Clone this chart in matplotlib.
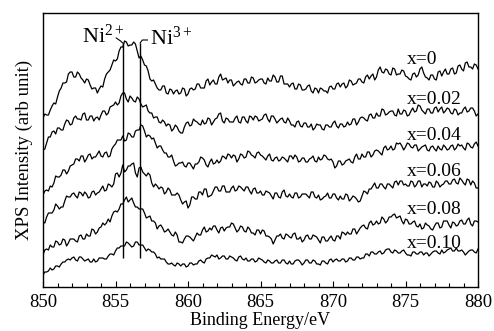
import numpy as np
import matplotlib
matplotlib.use("Agg")
import matplotlib.pyplot as plt
from matplotlib.ticker import MultipleLocator

plt.rcParams['font.family'] = ['Liberation Serif', 'DejaVu Serif']
plt.rcParams['mathtext.fontset'] = 'custom'
plt.rcParams['mathtext.rm'] = 'Liberation Serif'
plt.rcParams['mathtext.it'] = 'Liberation Serif:italic'
plt.rcParams['mathtext.bf'] = 'Liberation Serif:bold'

# ---- data (binding energy 850..880 eV, 0.125 eV step; stacked intensities, arb. units) ----
e_start, e_end = 850.0, 880.0

s_x000 = [169, 173, 172, 172, 177, 181, 184, 183, 190, 196, 199, 204, 204, 205, 213, 215,
          215, 210, 210, 215, 213, 209, 207, 204, 208, 207, 202, 198, 199, 199, 194, 198,
          201, 200, 208, 213, 215, 217, 222, 227, 226, 228, 236, 240, 240, 246, 245, 241,
          242, 242, 245, 243, 236, 229, 231, 227, 222, 221, 216, 208, 206, 207, 203, 199,
          197, 197, 201, 201, 194, 193, 198, 197, 193, 196, 197, 193, 194, 199, 198, 191,
          193, 198, 199, 197, 198, 203, 203, 199, 199, 199, 206, 208, 202, 205, 207, 203,
          203, 210, 213, 207, 208, 209, 204, 207, 207, 201, 203, 205, 206, 203, 202, 208,
          208, 204, 204, 210, 209, 204, 205, 207, 208, 208, 204, 203, 209, 206, 206, 212,
          210, 205, 205, 211, 211, 203, 203, 203, 200, 203, 204, 198, 198, 203, 202, 197,
          197, 198, 201, 202, 196, 194, 199, 198, 194, 199, 198, 196, 196, 194, 200, 201,
          198, 198, 203, 204, 200, 203, 204, 199, 201, 207, 206, 202, 203, 204, 208, 208,
          205, 204, 210, 212, 208, 211, 213, 207, 210, 217, 220, 215, 214, 218, 217, 213,
          212, 219, 218, 212, 213, 213, 217, 216, 211, 210, 208, 207, 213, 214, 210, 212,
          218, 220, 214, 210, 209, 207, 212, 212, 208, 207, 215, 216, 211, 215, 218, 213,
          213, 218, 219, 213, 214, 221, 222, 218, 216, 224, 225, 220, 220, 218, 223, 222,
          218]

s_x002 = [137, 138, 144, 150, 150, 155, 156, 153, 159, 159, 157, 157, 163, 167, 166, 162,
          163, 169, 171, 168, 168, 167, 173, 174, 167, 167, 171, 171, 166, 169, 170, 167,
          172, 176, 176, 172, 174, 180, 181, 182, 185, 182, 184, 191, 194, 194, 188, 185,
          191, 189, 186, 185, 190, 188, 183, 180, 181, 182, 176, 174, 174, 169, 170, 170,
          165, 164, 167, 165, 161, 163, 162, 156, 158, 162, 160, 156, 154, 154, 160, 164,
          165, 161, 162, 168, 166, 165, 163, 162, 167, 163, 164, 169, 168, 162, 165, 168,
          169, 173, 174, 166, 164, 169, 168, 165, 165, 165, 169, 171, 165, 164, 170, 170,
          166, 164, 171, 170, 167, 171, 170, 166, 167, 168, 172, 173, 168, 165, 171, 171,
          168, 164, 166, 168, 169, 165, 164, 169, 166, 162, 162, 160, 165, 166, 161, 160,
          164, 164, 160, 160, 163, 157, 159, 163, 162, 162, 158, 157, 162, 162, 160, 160,
          164, 166, 161, 159, 163, 163, 160, 161, 165, 162, 163, 168, 168, 162, 165, 169,
          170, 169, 167, 166, 172, 173, 169, 169, 174, 171, 171, 178, 177, 172, 173, 175,
          176, 176, 172, 171, 178, 173, 173, 177, 176, 171, 172, 176, 179, 175, 176, 182,
          181, 177, 175, 173, 178, 178, 174, 174, 179, 180, 175, 178, 180, 174, 176, 179,
          178, 174, 173, 178, 177, 172, 174, 174, 178, 180, 175, 176, 179, 179, 176, 171,
          173]

s_x004 = [92, 96, 97, 96, 101, 100, 104, 111, 110, 110, 112, 117, 117, 113, 116, 121,
          122, 123, 128, 128, 126, 131, 131, 125, 128, 132, 133, 128, 130, 130, 133, 136,
          131, 130, 134, 135, 130, 131, 138, 141, 143, 147, 147, 147, 151, 146, 147, 154,
          153, 150, 150, 156, 157, 157, 162, 161, 156, 150, 152, 151, 148, 149, 144, 139,
          141, 141, 137, 134, 134, 130, 130, 132, 126, 121, 122, 124, 124, 125, 121, 120,
          124, 124, 121, 118, 123, 123, 125, 130, 129, 127, 122, 120, 125, 128, 123, 124,
          127, 124, 126, 131, 130, 128, 133, 132, 129, 132, 131, 125, 128, 133, 132, 129,
          130, 136, 135, 132, 131, 129, 134, 135, 132, 131, 129, 127, 131, 133, 127, 126,
          129, 130, 126, 127, 130, 129, 127, 125, 131, 131, 128, 132, 130, 125, 126, 129,
          129, 125, 125, 128, 129, 131, 126, 125, 130, 127, 128, 132, 131, 128, 127, 128,
          125, 119, 121, 126, 126, 122, 123, 126, 127, 128, 125, 124, 130, 133, 128, 128,
          133, 130, 130, 135, 135, 130, 132, 136, 137, 136, 134, 132, 139, 141, 137, 138,
          141, 137, 138, 144, 143, 144, 141, 137, 140, 144, 143, 140, 139, 142, 142, 136,
          138, 140, 141, 142, 137, 136, 140, 141, 138, 136, 141, 138, 137, 142, 140, 137,
          138, 141, 142, 137, 139, 143, 141, 142, 139, 137, 144, 143, 140, 139, 143, 145,
          141]

s_x006 = [65, 64, 70, 74, 74, 74, 77, 83, 81, 78, 80, 80, 86, 91, 90, 90,
          93, 94, 91, 89, 95, 94, 91, 95, 93, 89, 90, 95, 96, 92, 94, 95,
          98, 101, 96, 97, 103, 102, 100, 103, 113, 114, 110, 114, 122, 115, 117, 121,
          121, 123, 124, 114, 110, 119, 120, 115, 113, 111, 114, 112, 104, 100, 103, 101,
          98, 100, 99, 93, 95, 99, 97, 92, 92, 92, 94, 92, 87, 83, 85, 86,
          79, 82, 90, 90, 88, 88, 95, 95, 92, 98, 98, 90, 91, 92, 96, 100,
          100, 96, 96, 101, 101, 95, 95, 95, 99, 101, 96, 97, 101, 100, 98, 96,
          100, 100, 96, 93, 98, 99, 94, 94, 96, 92, 92, 96, 95, 94, 91, 88,
          94, 94, 90, 89, 95, 97, 91, 90, 93, 90, 89, 94, 94, 89, 90, 93,
          93, 93, 91, 89, 95, 95, 90, 89, 92, 87, 88, 90, 91, 94, 89, 89,
          93, 93, 89, 87, 91, 88, 88, 93, 92, 86, 88, 91, 90, 88, 85, 86,
          91, 96, 95, 93, 98, 98, 101, 104, 99, 99, 103, 103, 100, 98, 103, 103,
          101, 99, 105, 106, 102, 106, 106, 102, 103, 101, 101, 106, 105, 100, 102, 106,
          106, 100, 103, 103, 101, 105, 104, 100, 100, 106, 104, 100, 102, 103, 106, 106,
          103, 103, 107, 108, 104, 103, 109, 107, 104, 102, 108, 107, 102, 106, 104, 99,
          99]

s_x008 = [32, 37, 38, 37, 42, 40, 40, 46, 45, 42, 43, 48, 47, 41, 44, 48,
          48, 48, 46, 45, 51, 52, 48, 48, 53, 51, 51, 58, 57, 53, 55, 59,
          60, 64, 62, 64, 68, 65, 71, 75, 76, 75, 78, 83, 83, 87, 90, 85,
          87, 89, 84, 80, 80, 78, 78, 78, 74, 69, 70, 71, 66, 66, 64, 58,
          61, 62, 59, 55, 56, 58, 55, 52, 51, 55, 52, 45, 45, 44, 48, 51,
          51, 50, 48, 46, 50, 54, 52, 52, 57, 60, 55, 56, 59, 57, 61, 61,
          57, 54, 59, 60, 56, 59, 60, 60, 64, 63, 59, 55, 57, 61, 60, 56,
          55, 60, 58, 54, 54, 52, 57, 57, 53, 57, 56, 51, 51, 50, 48, 43,
          47, 51, 51, 53, 49, 48, 53, 52, 50, 49, 53, 54, 48, 48, 50, 45,
          47, 51, 52, 48, 48, 52, 51, 50, 47, 44, 50, 50, 46, 46, 49, 51,
          47, 46, 51, 51, 48, 55, 54, 52, 55, 53, 53, 58, 58, 53, 56, 59,
          61, 62, 59, 58, 64, 66, 62, 63, 66, 63, 64, 70, 68, 64, 66, 70,
          70, 72, 73, 69, 70, 71, 66, 63, 68, 67, 63, 63, 65, 66, 61, 60,
          63, 58, 59, 64, 62, 61, 58, 57, 61, 64, 64, 59, 60, 66, 66, 66,
          62, 59, 65, 64, 61, 62, 66, 67, 63, 63, 67, 69, 63, 61, 66, 66,
          65]

s_x010 = [12, 15, 15, 16, 19, 17, 18, 21, 21, 20, 23, 25, 25, 27, 28, 27,
          29, 30, 27, 26, 30, 30, 28, 26, 27, 28, 25, 25, 28, 25, 26, 29,
          29, 29, 28, 28, 31, 33, 33, 32, 36, 39, 39, 41, 41, 41, 45, 44,
          42, 40, 41, 45, 45, 42, 42, 42, 39, 36, 38, 37, 35, 35, 33, 29,
          30, 28, 28, 28, 25, 23, 23, 24, 22, 21, 24, 23, 21, 23, 23, 20,
          21, 24, 24, 22, 23, 23, 26, 27, 25, 24, 28, 29, 29, 32, 31, 30,
          32, 28, 29, 31, 31, 28, 28, 31, 30, 29, 27, 26, 30, 31, 28, 27,
          29, 26, 26, 28, 28, 25, 26, 29, 28, 27, 25, 24, 27, 26, 24, 24,
          26, 27, 24, 24, 27, 27, 24, 23, 26, 23, 23, 26, 27, 27, 25, 22,
          24, 27, 27, 24, 24, 27, 26, 23, 23, 22, 26, 26, 24, 23, 27, 28,
          25, 27, 28, 26, 26, 28, 28, 25, 26, 29, 29, 27, 27, 30, 30, 28,
          29, 29, 33, 33, 31, 35, 35, 33, 33, 35, 36, 33, 34, 37, 38, 38,
          35, 34, 37, 36, 34, 34, 36, 37, 34, 32, 32, 31, 35, 35, 33, 33,
          35, 35, 32, 34, 34, 31, 33, 35, 36, 36, 34, 33, 37, 34, 35, 37,
          38, 39, 36, 36, 39, 36, 36, 37, 35, 32, 34, 36, 37, 37, 35, 34,
          38]

series = [s_x000, s_x002, s_x004, s_x006, s_x008, s_x010]
series_labels = ["x=0", "x=0.02", "x=0.04", "x=0.06", "x=0.08", "x=0.10"]
label_levels = [228, 188, 151, 116, 78, 44]

peak_energies = [855.5, 856.7]
peak_labels = [r"Ni$^{2+}$", r"Ni$^{3+}$"]

xticks = [850, 855, 860, 865, 870, 875, 880]

# ---- figure ----
fig = plt.figure(figsize=(4.94, 3.31), dpi=100)
ax = fig.add_axes([43 / 494, 1 - 287 / 331, 435 / 494, 274 / 331])

for s in series:
    e = np.linspace(e_start, e_end, len(s))
    ax.plot(e, s, color='black', lw=0.9)

ax.set_xlim(e_start, e_end)
ax.set_ylim(0, 274)

# vertical marker lines for Ni2+ / Ni3+
ax.vlines(peak_energies, 29, 244, color='black', lw=1.0)
# small leader hooks
ax.plot([855.05, 855.35, peak_energies[0]], [249, 246, 244], color='black', lw=0.8)
ax.plot([peak_energies[1], 856.85, 857.2], [244, 247, 247], color='black', lw=0.8)
ax.text(852.7, 244, peak_labels[0], fontsize=16, ha='left', va='baseline')
ax.text(857.35, 242, peak_labels[1], fontsize=16, ha='left', va='baseline')

for lab, lev in zip(series_labels, label_levels):
    ax.text(875.1, lev, lab, fontsize=14, ha='left', va='center')

ax.set_xticks(xticks)
ax.xaxis.set_minor_locator(MultipleLocator(1))
ax.tick_params(axis='x', which='major', direction='in', length=4, width=0.8,
               labelsize=13.5, pad=5, top=False)
ax.tick_params(axis='x', which='minor', direction='in', length=3, width=0.8, top=False)
ax.set_yticks([])
for sp in ax.spines.values():
    sp.set_linewidth(1.0)

ax.set_xlabel("Binding Energy/eV", fontsize=13, labelpad=1)
ax.set_ylabel("XPS Intensity (arb unit)", fontsize=13.5, labelpad=7)

fig.savefig("out.png", dpi=100)
